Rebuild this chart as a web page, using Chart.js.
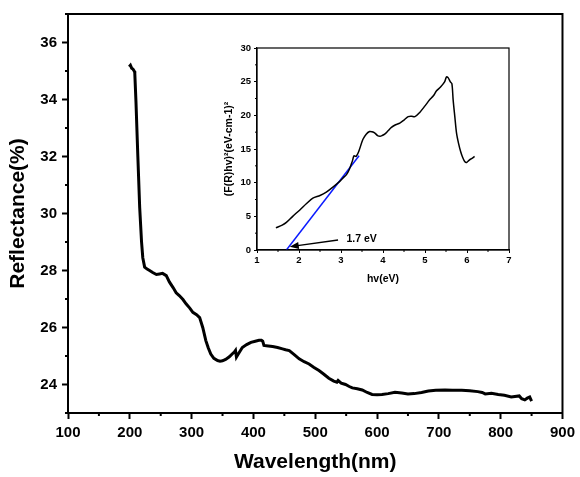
<!DOCTYPE html>
<html>
<head>
<meta charset="utf-8">
<script src="https://cdn.jsdelivr.net/npm/chart.js@4"></script>
<style>
body { margin: 0; background: #fff; }
#wrap { position: relative; width: 580px; height: 477px; }
#mainChart { position: absolute; left: 0; top: 0; }
#insetChart { position: absolute; left: 215px; top: 38px; }
</style>
</head>
<body>
<div id="wrap">
  <canvas id="mainChart" width="580" height="477"></canvas>
  <canvas id="insetChart" width="305" height="255"></canvas>
</div>
<script>
// main spectrum
const wavelength = [199, 201, 203, 205, 207, 208, 210, 213, 216, 219, 221, 224, 228, 232, 237, 243, 248, 253, 259, 264,
  270, 275, 280, 286, 291, 297, 302, 308, 313, 318, 323, 327, 331, 336, 342, 346, 350, 355, 361, 366,
  369, 371, 372.5, 375, 382, 389, 396, 403, 409, 413, 415, 417, 424, 431, 439, 447, 452, 458, 466, 474,
  482, 490, 498, 506, 514, 522, 530, 535, 537, 542, 549, 555, 560, 568, 576, 584, 592, 600, 608, 618,
  629, 640, 650, 660, 672, 683, 695, 710, 722, 737, 750, 763, 770, 775, 785, 796, 806, 817, 823, 830,
  834, 839, 843, 847, 850]
const reflectance = [35.15, 35.2, 35.1, 35.07, 35.0, 34.95, 33.9, 32.0, 30.2, 29.0, 28.45, 28.12, 28.05, 28.0, 27.93, 27.86, 27.88, 27.9, 27.82, 27.6,
  27.4, 27.22, 27.12, 26.98, 26.83, 26.68, 26.53, 26.45, 26.35, 26.0, 25.54, 25.28, 25.07, 24.92, 24.84, 24.82, 24.83, 24.88, 24.97, 25.08,
  25.14, 25.2, 24.96, 25.05, 25.3, 25.4, 25.48, 25.52, 25.55, 25.55, 25.52, 25.37, 25.35, 25.33, 25.3, 25.25, 25.22, 25.19, 25.05, 24.9,
  24.8, 24.72, 24.6, 24.49, 24.36, 24.22, 24.12, 24.08, 24.14, 24.05, 24.0, 23.93, 23.88, 23.85, 23.81, 23.72, 23.65, 23.64, 23.65, 23.68,
  23.73, 23.7, 23.67, 23.68, 23.72, 23.77, 23.8, 23.81, 23.8, 23.8, 23.78, 23.75, 23.72, 23.67, 23.69, 23.65, 23.62, 23.56, 23.58, 23.6,
  23.5, 23.46, 23.52, 23.56, 23.42]

// inset: Kubelka-Munk plot
const photonEnergy = [1.45, 1.6, 1.7, 1.85, 2.02, 2.18, 2.33, 2.5, 2.65, 2.8, 2.97, 3.05, 3.13, 3.2, 3.27, 3.31, 3.36, 3.42, 3.52, 3.6,
  3.68, 3.74, 3.8, 3.87, 3.93, 3.98, 4.04, 4.12, 4.2, 4.3, 4.4, 4.5, 4.6, 4.68, 4.76, 4.87, 5.0, 5.11, 5.2, 5.27,
  5.37, 5.47, 5.51, 5.55, 5.6, 5.64, 5.67, 5.71, 5.75, 5.8, 5.85, 5.9, 5.95, 5.99, 6.06, 6.12, 6.18]
const kmValue = [3.3, 3.7, 4.1, 5.0, 5.95, 6.9, 7.7, 8.1, 8.6, 9.3, 10.2, 10.7, 11.2, 12.0, 13.2, 14.0, 13.9, 14.6, 16.4, 17.2,
  17.6, 17.55, 17.4, 17.0, 16.9, 17.0, 17.2, 17.7, 18.2, 18.6, 18.85, 19.3, 19.8, 19.85, 19.8, 20.4, 21.4, 22.3, 22.9, 23.6,
  24.2, 25.0, 25.7, 25.6, 25.0, 24.7, 22.3, 19.8, 17.4, 15.8, 14.6, 13.7, 13.1, 13.0, 13.4, 13.6, 13.9]
const fitEnergy = [1.7, 3.43]
const fitValue = [0, 14]
const arrowFrom = [2.93, 1.49]
const arrowTo = [1.78, 0.49]
const gapLabelPos = [3.13, 1.64]
const gapLabel = '1.7 eV'

const FONT = "'Liberation Sans', Arial, sans-serif"

function toPoints(xs, ys) {
  return xs.map((x, i) => ({ x: x, y: ys[i] }))
}

// box round the plot + short minor ticks
const framePlugin = {
  id: 'frame',
  afterDraw(chart, args, opts) {
    const a = chart.chartArea
    const ctx = chart.ctx
    ctx.save()
    ctx.strokeStyle = '#000'
    ctx.lineWidth = opts.width
    ctx.strokeRect(a.left, a.top, a.right - a.left, a.bottom - a.top)
    const xs = chart.scales.x, ys = chart.scales.y
    ctx.lineWidth = opts.tickWidth
    ctx.beginPath()
    xs.ticks.forEach(t => {
      if (opts.xMajor(t.value)) return
      const px = xs.getPixelForValue(t.value)
      ctx.moveTo(px, a.bottom)
      ctx.lineTo(px, a.bottom + opts.minorLen)
    })
    ys.ticks.forEach(t => {
      if (opts.yMajor(t.value)) return
      const py = ys.getPixelForValue(t.value)
      ctx.moveTo(a.left, py)
      ctx.lineTo(a.left - opts.minorLen, py)
    })
    ctx.stroke()
    ctx.restore()
  }
}

const mainXMajor = v => v % 100 === 0
const mainYMajor = v => v % 2 === 0

new Chart(document.getElementById('mainChart'), {
  type: 'line',
  data: {
    datasets: [{
      data: toPoints(wavelength, reflectance),
      borderColor: '#000',
      borderWidth: 3,
      pointRadius: 0,
      tension: 0
    }]
  },
  options: {
    responsive: false,
    animation: false,
    devicePixelRatio: 1,
    layout: { padding: { top: 13, right: 15, left: 0, bottom: 0 } },
    plugins: {
      legend: { display: false },
      tooltip: { enabled: false },
      frame: { width: 2, tickWidth: 2, minorLen: 3, xMajor: mainXMajor, yMajor: mainYMajor }
    },
    scales: {
      x: {
        type: 'linear',
        min: 100,
        max: 900,
        afterFit: s => { s.height = 64 },
        border: { color: '#000', width: 2 },
        grid: {
          drawOnChartArea: false,
          tickLength: 6,
          tickWidth: 2,
          tickColor: c => mainXMajor(c.tick.value) ? '#000' : 'rgba(0,0,0,0)'
        },
        ticks: {
          stepSize: 50,
          maxRotation: 0,
          autoSkip: false,
          padding: 5,
          color: '#000',
          font: { family: FONT, size: 15, weight: 'bold' },
          callback: v => mainXMajor(v) ? v : ''
        },
        title: {
          display: true,
          text: 'Wavelength(nm)',
          color: '#000',
          font: { family: FONT, size: 21, weight: 'bold' },
          padding: { top: 0, bottom: 2 }
        }
      },
      y: {
        min: 23,
        max: 37,
        afterFit: s => { s.width = 68 },
        border: { color: '#000', width: 2 },
        grid: {
          drawOnChartArea: false,
          tickLength: 6,
          tickWidth: 2,
          tickColor: c => mainYMajor(c.tick.value) ? '#000' : 'rgba(0,0,0,0)'
        },
        ticks: {
          stepSize: 1,
          autoSkip: false,
          padding: 5,
          color: '#000',
          font: { family: FONT, size: 15, weight: 'bold' },
          callback: v => mainYMajor(v) ? v : ''
        },
        title: {
          display: true,
          text: 'Reflectance(%)',
          color: '#000',
          font: { family: FONT, size: 21, weight: 'bold' },
          padding: { top: 6, bottom: 0 }
        }
      }
    }
  },
  plugins: [framePlugin]
})

// arrow + "1.7 eV" label on the inset
const gapArrowPlugin = {
  id: 'gapArrow',
  afterDatasetsDraw(chart) {
    const xs = chart.scales.x, ys = chart.scales.y
    const ctx = chart.ctx
    const x0 = xs.getPixelForValue(arrowFrom[0]), y0 = ys.getPixelForValue(arrowFrom[1])
    const x1 = xs.getPixelForValue(arrowTo[0]), y1 = ys.getPixelForValue(arrowTo[1])
    const ang = Math.atan2(y1 - y0, x1 - x0)
    ctx.save()
    ctx.strokeStyle = '#000'
    ctx.fillStyle = '#000'
    ctx.lineWidth = 1.5
    ctx.beginPath()
    ctx.moveTo(x0, y0)
    ctx.lineTo(x1 - 6 * Math.cos(ang), y1 - 6 * Math.sin(ang))
    ctx.stroke()
    ctx.beginPath()
    ctx.moveTo(x1, y1)
    ctx.lineTo(x1 - 9 * Math.cos(ang) + 3.5 * Math.sin(ang), y1 - 9 * Math.sin(ang) - 3.5 * Math.cos(ang))
    ctx.lineTo(x1 - 9 * Math.cos(ang) - 3.5 * Math.sin(ang), y1 - 9 * Math.sin(ang) + 3.5 * Math.cos(ang))
    ctx.closePath()
    ctx.fill()
    ctx.font = 'bold 10.5px ' + FONT
    ctx.textBaseline = 'middle'
    ctx.textAlign = 'left'
    ctx.fillText(gapLabel, xs.getPixelForValue(gapLabelPos[0]), ys.getPixelForValue(gapLabelPos[1]))
    ctx.restore()
  }
}

const insetXMajor = v => Number.isInteger(v)
const insetYMajor = v => v % 5 === 0

new Chart(document.getElementById('insetChart'), {
  type: 'line',
  data: {
    datasets: [{
      data: toPoints(photonEnergy, kmValue),
      borderColor: '#000',
      borderWidth: 1.5,
      pointRadius: 0,
      tension: 0.3
    }, {
      data: toPoints(fitEnergy, fitValue),
      borderColor: '#0a1aff',
      borderWidth: 1.5,
      pointRadius: 0
    }]
  },
  options: {
    responsive: false,
    animation: false,
    devicePixelRatio: 1,
    layout: { padding: { top: 10, right: 11, left: 0, bottom: 0 } },
    plugins: {
      legend: { display: false },
      tooltip: { enabled: false },
      frame: { width: 1.2, tickWidth: 1, minorLen: 2, xMajor: insetXMajor, yMajor: insetYMajor }
    },
    scales: {
      x: {
        type: 'linear',
        min: 1,
        max: 7,
        afterFit: s => { s.height = 43 },
        border: { color: '#000', width: 1.2 },
        grid: {
          drawOnChartArea: false,
          tickLength: 3,
          tickWidth: 1,
          tickColor: c => insetXMajor(c.tick.value) ? '#000' : 'rgba(0,0,0,0)'
        },
        ticks: {
          stepSize: 0.5,
          maxRotation: 0,
          autoSkip: false,
          padding: 2,
          color: '#000',
          font: { family: FONT, size: 9.5, weight: 'bold' },
          callback: v => insetXMajor(v) ? v : ''
        },
        title: {
          display: true,
          text: 'hv(eV)',
          color: '#000',
          font: { family: FONT, size: 10.5, weight: 'bold' },
          padding: { top: 0, bottom: 8 }
        }
      },
      y: {
        min: 0,
        max: 30,
        afterFit: s => { s.width = 42 },
        border: { color: '#000', width: 1.2 },
        grid: {
          drawOnChartArea: false,
          tickLength: 3,
          tickWidth: 1,
          tickColor: c => insetYMajor(c.tick.value) ? '#000' : 'rgba(0,0,0,0)'
        },
        ticks: {
          stepSize: 2.5,
          autoSkip: false,
          padding: 3,
          color: '#000',
          font: { family: FONT, size: 9.5, weight: 'bold' },
          callback: v => insetYMajor(v) ? v : ''
        },
        title: {
          display: true,
          text: '(F(R)hv)²(eV-cm-1)²',
          color: '#000',
          font: { family: FONT, size: 10.5, weight: 'bold' },
          padding: { top: 8, bottom: 0 }
        }
      }
    }
  },
  plugins: [framePlugin, gapArrowPlugin]
})
</script>
</body>
</html>
